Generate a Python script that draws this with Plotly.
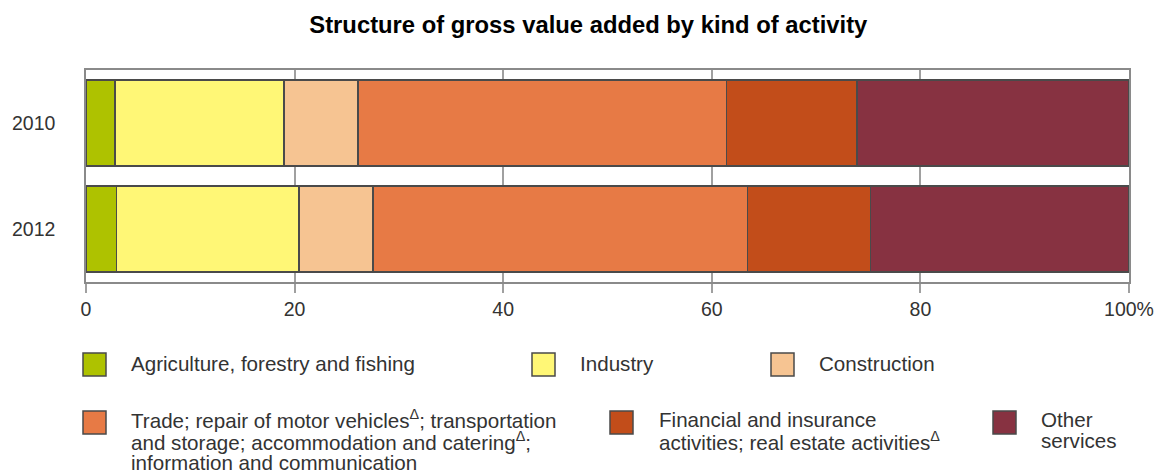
import plotly.graph_objects as go

# ---- data ----
years = ["2010", "2012"]
categories = [
    "Agriculture, forestry and fishing",
    "Industry",
    "Construction",
    "Trade; repair of motor vehicles<sup>Δ</sup>; transportation and storage; accommodation and catering<sup>Δ</sup>; information and communication",
    "Financial and insurance activities; real estate activities<sup>Δ</sup>",
    "Other services",
]
agriculture = [2.8, 2.9]
industry = [16.2, 17.5]
construction = [7.1, 7.1]
trade = [35.3, 35.9]
financial = [12.5, 11.8]
other_services = [26.1, 24.8]
series_values = [agriculture, industry, construction, trade, financial, other_services]
colors = ["#AEC200", "#FFF776", "#F6C492", "#E77A45", "#C24D1A", "#873241"]
tick_values = [0, 20, 40, 60, 80, 100]
tick_labels = ["0", "20", "40", "60", "80", "100%"]

# legend text lines (display layout)
legend_lines = [
    ["Agriculture, forestry and fishing"],
    ["Industry"],
    ["Construction"],
    ["Trade; repair of motor vehicles<sup>Δ</sup>; transportation",
     "and storage; accommodation and catering<sup>Δ</sup>;",
     "information and communication"],
    ["Financial and insurance", "activities; real estate activities<sup>Δ</sup>"],
    ["Other", "services"],
]

FONT = "Liberation Sans, Arial, Helvetica, sans-serif"
W, H = 1165, 472
L, R, T, B = 86, 1129, 70, 282

fig = go.Figure()
for name, vals, col in zip(categories, series_values, colors):
    fig.add_trace(go.Bar(
        y=years, x=vals, name=name, orientation="h",
        marker=dict(color=col, line=dict(color="#4a4a4a", width=1.5)),
        showlegend=False,
    ))

def px(x):
    return (x - L) / (R - L)

def py(y):
    return (B - y) / (B - T)

# legend as shapes + annotations (target pixel positions)
swatch_pos = [(83, 353), (532, 353), (771, 353), (83, 411), (610, 411), (993, 411)]
text_x = [129, 578, 817, 129, 657, 1039]
first_line_y = [363, 363, 363, 419, 419, 419]
line_step = 21.5
shapes = []
annotations = []
for i, col in enumerate(colors):
    sx, sy = swatch_pos[i]
    shapes.append(dict(type="rect", xref="paper", yref="paper",
                       x0=px(sx), x1=px(sx + 23), y0=py(sy), y1=py(sy + 23),
                       fillcolor=col, line=dict(color="#4a4a4a", width=1.5)))
    for j, line in enumerate(legend_lines[i]):
        annotations.append(dict(
            xref="paper", yref="paper", x=px(text_x[i]), y=py(first_line_y[i] + j * line_step),
            xanchor="left", yanchor="middle", text=line, showarrow=False,
            font=dict(family=FONT, size=20.6, color="#333333"),
        ))

fig.update_layout(
    width=W, height=H,
    margin=dict(l=L, r=W - R, t=T, b=H - B, pad=0),
    barmode="stack", bargap=0.19,
    paper_bgcolor="white", plot_bgcolor="white",
    font=dict(family=FONT, size=19, color="#333333"),
    title=dict(text="<b>Structure of gross value added by kind of activity</b>",
               x=0.505, xref="container", y=1 - 25 / H, yref="container",
               xanchor="center", yanchor="middle",
               font=dict(family=FONT, size=23.8, color="#000000")),
    xaxis=dict(range=[0, 100], tickvals=tick_values, ticktext=tick_labels,
               showgrid=True, gridcolor="#a0a0a0", gridwidth=1.5,
               ticks="outside", ticklen=9, tickcolor="#a0a0a0", tickwidth=1.5,
               showline=True, mirror=True, linecolor="#8a8a8a", linewidth=1.5,
               zeroline=False, fixedrange=True, automargin=False,
               tickfont=dict(family=FONT, size=19.5, color="#333333")),
    yaxis=dict(categoryorder="array", categoryarray=years, autorange="reversed",
               showgrid=False, ticks="", showline=True, mirror=True,
               linecolor="#8a8a8a", linewidth=1.5, ticklabelstandoff=25,
               fixedrange=True, automargin=False,
               tickfont=dict(family=FONT, size=19.5, color="#333333")),
    shapes=shapes,
    annotations=annotations,
)

fig.write_html(
    "out.html",
    config={"displayModeBar": False},
    post_script="document.body.style.margin='0';document.body.style.overflow='hidden';",
)
